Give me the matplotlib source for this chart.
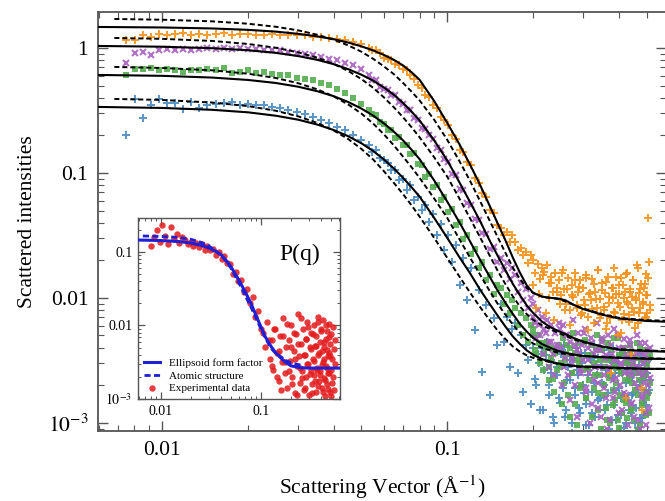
import numpy as np
import matplotlib
matplotlib.use('Agg')
import matplotlib.pyplot as plt
from matplotlib.ticker import FixedLocator, FixedFormatter, LogLocator, NullFormatter

plt.rcParams['font.family'] = ['Liberation Serif', 'DejaVu Serif']
plt.rcParams['mathtext.fontset'] = 'stix'

# ---------------- data (log10 of intensity) ----------------
q_low = np.geomspace(0.0075, 0.05, 30)
q_mid = np.geomspace(0.053, 0.15, 35)
q_high = np.linspace(0.154, 0.515, 95)
q_extra = np.linspace(0.2, 0.513, 60)
q_data = np.concatenate([q_low, q_mid, q_high, q_extra])

orange_log = [0.06, 0.06, 0.10, 0.09, 0.11, 0.10, 0.11, 0.12, 0.10, 0.11, 0.10, 0.11, 0.12, 0.10, 0.11,
              0.11, 0.10, 0.10, 0.11, 0.10, 0.10, 0.10, 0.10, 0.09, 0.09, 0.08, 0.07, 0.06, 0.05, 0.03,
              0.00, -0.02, -0.02, -0.04, -0.08, -0.09, -0.10, -0.13, -0.14, -0.17, -0.18, -0.22, -0.25, -0.30, -0.32,
              -0.38, -0.39, -0.46, -0.48, -0.55, -0.58, -0.62, -0.70, -0.73, -0.82, -0.83, -0.91, -0.94, -1.04, -1.08,
              -1.16, -1.19, -1.30, -1.32, -1.42,
              -1.44, -1.50, -1.47, -1.55, -1.50,
              -1.55, -1.62, -1.60, -1.66, -1.63, -1.72, -1.66,
              -1.70, -1.80, -1.73, -1.85, -1.76, -1.79,
              -1.74, -1.88, -1.83, -1.95, -1.80, -1.92, -1.86,
              -1.98, -1.78, -1.93, -2.05, -1.84, -2.10, -1.90, -1.99, -1.80, -2.08, -1.95, -1.86, -2.12,
              -1.92, -2.06, -1.82, -2.15, -1.97, -2.02, -1.85, -2.20, -1.95, -2.08, -1.78, -2.01, -2.14,
              -1.88, -2.10, -1.96, -2.25, -1.83, -2.04, -2.16, -1.92, -2.00, -1.76, -2.12, -1.97, -2.30,
              -1.90, -2.07, -1.84, -2.18, -2.00, -1.95, -2.80, -1.80, -2.05, -2.14, -1.93, -2.45, -1.99,
              -1.86, -2.11, -2.02, -1.74, -2.20, -1.96, -2.08, -1.89, -2.72, -2.03, -1.92, -2.16, -1.81,
              -1.98, -2.12, -1.36, -1.71, -2.06,
              -1.90, -2.08, -1.97, -1.82, -2.12, -2.00, -1.88, -2.18, -1.95, -2.05,
              -1.80, -2.10, -1.93, -2.22, -1.98, -1.86, -2.06, -1.91, -2.14, -2.02,
              -1.84, -2.26, -1.96, -2.09, -1.89, -2.01, -1.78, -2.16, -1.94, -2.07,
              -1.87, -2.20, -1.99, -2.60, -1.92, -2.11, -1.83, -2.04, -1.97, -2.28,
              -1.90, -2.13, -1.81, -2.03, -2.19, -1.95, -2.08, -1.86, -2.24, -2.00,
              -1.76, -2.12, -1.93, -2.90, -2.05, -1.89, -2.15, -1.98, -1.84, -2.10]

purple_log = [-0.12, -0.04, -0.03, -0.06, -0.02, -0.01, -0.02, -0.01, -0.02, -0.01, 0.00, -0.01, 0.00, -0.01, 0.00,
              -0.01, -0.01, -0.02, -0.02, -0.02, -0.03, -0.04, -0.05, -0.06, -0.07, -0.09, -0.10, -0.12, -0.14, -0.17,
              -0.22, -0.26, -0.26, -0.31, -0.33, -0.34, -0.38, -0.38, -0.43, -0.45, -0.50, -0.50, -0.56, -0.58, -0.64,
              -0.65, -0.70, -0.73, -0.80, -0.82, -0.89, -0.91, -1.01, -1.02, -1.13, -1.14, -1.24, -1.26, -1.37, -1.38,
              -1.48, -1.49, -1.61, -1.59, -1.71,
              -1.68, -1.78, -1.72, -1.85, -1.76,
              -1.82, -1.95, -1.88, -2.02, -1.93, -2.08, -2.00,
              -2.05, -2.20, -2.10, -2.30, -2.15, -2.25,
              -2.18, -2.35, -2.22, -2.45, -2.28, -2.38, -2.20,
              -2.40, -2.22, -2.55, -2.30, -2.62, -2.35, -2.48, -2.18, -2.70, -2.42, -2.28, -2.58, -2.38,
              -2.50, -2.25, -2.72, -2.40, -2.60, -2.32, -2.85, -2.45, -2.55, -2.20, -2.68, -2.42, -2.95,
              -2.35, -2.62, -2.48, -2.80, -2.30, -2.55, -2.98, -2.45, -2.66, -2.25, -2.75, -2.50, -3.10,
              -2.40, -2.70, -2.52, -2.90, -2.33, -2.60, -2.78, -2.46, -3.02, -2.56, -2.38, -2.85, -2.62,
              -2.48, -2.95, -2.55, -2.30, -2.72, -2.60, -3.05, -2.44, -2.80, -2.52, -2.68, -2.36, -2.92,
              -2.58, -2.75, -2.42, -2.88, -2.64,
              -2.15, -2.32, -2.22, -2.45, -2.28, -2.55, -2.35, -2.62, -2.40, -2.25,
              -2.70, -2.48, -2.30, -2.82, -2.52, -2.38, -2.95, -2.44, -2.60, -2.28,
              -2.75, -2.50, -3.00, -2.36, -2.66, -2.42, -2.88, -2.55, -2.32, -2.72,
              -2.46, -3.05, -2.58, -2.38, -2.80, -2.50, -2.64, -2.30, -2.92, -2.54,
              -2.40, -2.76, -2.48, -3.10, -2.60, -2.34, -2.84, -2.52, -2.68, -2.44,
              -2.98, -2.56, -2.36, -2.78, -2.62, -2.46, -3.02, -2.50, -2.70, -2.40]

green_log = [-0.22, -0.17, -0.17, -0.16, -0.18, -0.17, -0.18, -0.19, -0.18, -0.18, -0.17, -0.18, -0.16, -0.20, -0.19,
             -0.18, -0.20, -0.19, -0.21, -0.22, -0.22, -0.24, -0.25, -0.26, -0.28, -0.30, -0.33, -0.36, -0.40, -0.45,
             -0.50, -0.53, -0.54, -0.59, -0.61, -0.66, -0.66, -0.72, -0.71, -0.78, -0.78, -0.85, -0.84, -0.93, -0.94,
             -1.03, -1.01, -1.11, -1.10, -1.22, -1.19, -1.31, -1.29, -1.42, -1.39, -1.53, -1.50, -1.65, -1.61, -1.76,
             -1.71, -1.86, -1.82, -1.97, -1.90,
             -1.92, -2.05, -1.98, -2.12, -2.02,
             -2.08, -2.22, -2.12, -2.30, -2.16, -2.35, -2.22,
             -2.25, -2.42, -2.30, -2.52, -2.36, -2.45,
             -2.35, -2.55, -2.40, -2.65, -2.44, -2.58, -2.38,
             -2.52, -2.32, -2.68, -2.45, -2.78, -2.40, -2.60, -2.28, -2.85, -2.50, -2.36, -2.72, -2.48,
             -2.58, -2.34, -2.80, -2.46, -2.66, -2.38, -2.95, -2.52, -2.62, -2.30, -2.76, -2.50, -3.05,
             -2.42, -2.70, -2.55, -2.88, -2.36, -2.62, -3.00, -2.50, -2.74, -2.32, -2.82, -2.56, -2.98,
             -2.46, -2.78, -2.60, -2.92, -2.40, -2.66, -2.84, -2.52, -3.08, -2.62, -2.44, -2.90, -2.68,
             -2.54, -2.98, -2.60, -2.36, -2.78, -2.66, -3.02, -2.50, -2.86, -2.58, -2.74, -2.42, -2.94,
             -2.62, -2.80, -2.48, -2.92, -2.68,
             -2.30, -2.45, -2.36, -2.58, -2.40, -2.66, -2.48, -2.75, -2.42, -2.55,
             -2.85, -2.50, -2.38, -2.95, -2.60, -2.44, -3.02, -2.52, -2.70, -2.35,
             -2.80, -2.56, -3.08, -2.46, -2.72, -2.40, -2.90, -2.62, -2.34, -2.78,
             -2.50, -2.98, -2.64, -2.42, -2.86, -2.54, -2.68, -2.32, -3.04, -2.58,
             -2.44, -2.82, -2.52, -2.96, -2.66, -2.38, -2.88, -2.56, -2.74, -2.48,
             -3.06, -2.60, -2.40, -2.84, -2.64, -2.50, -2.92, -2.54, -2.76, -2.46]

blue_log = [-0.70, -0.41, -0.56, -0.46, -0.41, -0.44, -0.44, -0.49, -0.43, -0.48, -0.46, -0.45, -0.44, -0.43, -0.46,
            -0.45, -0.46, -0.46, -0.47, -0.48, -0.50, -0.51, -0.53, -0.55, -0.58, -0.60, -0.63, -0.66, -0.70, -0.74,
            -0.78, -0.83, -0.82, -0.88, -0.90, -0.92, -0.98, -0.98, -1.06, -1.05, -1.14, -1.10, -1.22, -1.19, -1.30,
            -1.26, -1.39, -1.33, -1.50, -1.41, -1.62, -1.50, -1.71, -1.58, -1.90, -1.68, -2.02, -1.76, -2.26, -1.94,
            -2.59, -2.06, -2.78, -2.16, -2.38,
            -2.05, -2.35, -2.15, -2.55, -2.25,
            -2.20, -2.60, -2.30, -2.75, -2.38, -2.50, -2.85,
            -2.30, -2.65, -2.45, -2.90, -2.40, -2.58,
            -2.35, -2.70, -2.50, -2.95, -2.42, -2.62, -2.80,
            -2.45, -2.72, -2.38, -2.90, -2.55, -2.66, -3.00, -2.48, -2.78, -2.40, -2.62, -2.92, -2.52,
            -2.70, -2.44, -2.85, -2.58, -3.02, -2.50, -2.75, -2.38, -2.95, -2.62, -2.48, -2.80, -2.55,
            -2.68, -2.42, -2.90, -2.58, -2.76, -3.05, -2.50, -2.64, -2.40, -2.86, -2.60, -2.98, -2.52,
            -2.72, -2.46, -2.94, -2.60, -2.78, -2.44, -3.00, -2.56, -2.82, -2.66, -2.50, -2.92, -2.62,
            -2.76, -2.48, -2.88, -2.58, -3.04, -2.54, -2.70, -2.45, -2.96, -2.64, -2.80, -2.52, -2.86,
            -2.60, -2.92, -2.50, -2.74, -2.66,
            -2.40, -2.70, -2.52, -2.90, -2.46, -2.78, -2.60, -3.00, -2.55, -2.84,
            -2.42, -2.95, -2.66, -2.50, -3.08, -2.72, -2.58, -2.88, -2.44, -2.76,
            -3.02, -2.62, -2.48, -2.92, -2.68, -2.54, -2.82, -2.40, -3.06, -2.70,
            -2.56, -2.86, -2.46, -2.98, -2.64, -2.74, -2.52, -2.94, -2.60, -2.80,
            -2.44, -3.04, -2.68, -2.58, -2.90, -2.50, -2.78, -2.62, -3.00, -2.56,
            -2.72, -2.46, -2.96, -2.66, -2.84, -2.54, -3.10, -2.60, -2.76, -2.48]

# model curves (log10 intensity)
q_fit = [0.006, 0.01, 0.015, 0.02, 0.025, 0.03, 0.035, 0.04, 0.045, 0.05,
         0.055, 0.06, 0.065, 0.07, 0.075, 0.08, 0.09, 0.1,
         0.11, 0.12, 0.13, 0.14, 0.15, 0.16, 0.17, 0.18, 0.19, 0.2,
         0.215, 0.23, 0.245, 0.26, 0.28, 0.3, 0.35, 0.4, 0.5, 0.6]
q_dash = [0.0068] + q_fit[1:]

orange_fit = [0.168, 0.164, 0.156, 0.145, 0.131, 0.113, 0.093, 0.070, 0.043, 0.013,
              -0.020, -0.056, -0.095, -0.14, -0.195, -0.255, -0.425, -0.60,
              -0.765, -0.93, -1.09, -1.25, -1.40, -1.54, -1.68, -1.80, -1.90, -1.96,
              -1.99, -2.00, -2.005, -2.02, -2.06, -2.09, -2.135, -2.165, -2.185, -2.192]
purple_fit = [0.016, 0.010, -0.002, -0.018, -0.039, -0.065, -0.095, -0.13, -0.17, -0.214,
              -0.262, -0.316, -0.375, -0.44, -0.51, -0.58, -0.74, -0.90,
              -1.07, -1.23, -1.38, -1.53, -1.66, -1.78, -1.89, -1.98, -2.06, -2.12,
              -2.19, -2.235, -2.265, -2.29, -2.325, -2.35, -2.39, -2.415, -2.425, -2.432]
green_fit = [-0.216, -0.223, -0.237, -0.256, -0.28, -0.31, -0.346, -0.386, -0.433, -0.485,
             -0.542, -0.604, -0.67, -0.74, -0.815, -0.89, -1.06, -1.23,
             -1.39, -1.545, -1.69, -1.82, -1.94, -2.04, -2.13, -2.21, -2.27, -2.32,
             -2.37, -2.40, -2.425, -2.44, -2.455, -2.465, -2.475, -2.48, -2.488, -2.488]
blue_fit = [-0.472, -0.48, -0.495, -0.515, -0.542, -0.574, -0.613, -0.657, -0.707, -0.763,
            -0.825, -0.893, -0.965, -1.04, -1.115, -1.19, -1.36, -1.52,
            -1.67, -1.80, -1.93, -2.04, -2.14, -2.23, -2.31, -2.37, -2.42, -2.455,
            -2.49, -2.51, -2.525, -2.535, -2.545, -2.55, -2.555, -2.56, -2.568, -2.568]

orange_atom = [0.232, 0.226, 0.213, 0.194, 0.17, 0.141, 0.106, 0.066, 0.02, -0.03,
               -0.087, -0.148, -0.21, -0.28, -0.35, -0.42, -0.575, -0.735,
               -0.90, -1.06, -1.22, -1.37, -1.51, -1.64, -1.76, -1.85, -1.92, -1.96,
               -1.99, -2.0, -2.01, -2.03, -2.06, -2.085, -2.13, -2.16, -2.178, -2.184]
purple_atom = [0.08, 0.073, 0.056, 0.032, 0.002, -0.035, -0.078, -0.128, -0.185, -0.249,
               -0.319, -0.396, -0.475, -0.555, -0.635, -0.715, -0.875, -1.03,
               -1.20, -1.36, -1.51, -1.65, -1.78, -1.89, -1.99, -2.07, -2.13, -2.175,
               -2.22, -2.25, -2.28, -2.305, -2.335, -2.355, -2.39, -2.41, -2.42, -2.428]
green_atom = [-0.152, -0.16, -0.179, -0.206, -0.24, -0.282, -0.331, -0.388, -0.453, -0.525,
              -0.605, -0.692, -0.78, -0.87, -0.955, -1.04, -1.205, -1.36,
              -1.525, -1.675, -1.81, -1.935, -2.045, -2.135, -2.215, -2.28, -2.33, -2.365,
              -2.40, -2.42, -2.44, -2.45, -2.46, -2.465, -2.472, -2.478, -2.484, -2.488]
blue_atom = [-0.408, -0.416, -0.437, -0.465, -0.502, -0.547, -0.60, -0.661, -0.73, -0.808,
             -0.893, -0.987, -1.08, -1.17, -1.26, -1.35, -1.52, -1.68,
             -1.825, -1.955, -2.07, -2.17, -2.26, -2.33, -2.39, -2.43, -2.46, -2.48,
             -2.50, -2.515, -2.53, -2.54, -2.55, -2.555, -2.56, -2.565, -2.568, -2.568]

# inset P(q)
pq_q_fit = [0.0059, 0.01, 0.015, 0.02, 0.025, 0.03, 0.035, 0.04, 0.045, 0.05, 0.06, 0.07, 0.08,
            0.09, 0.1, 0.11, 0.12, 0.13, 0.14, 0.16, 0.18, 0.2, 0.25, 0.3, 0.4, 0.62]
pq_ellipsoid = [-0.84, -0.847, -0.86, -0.88, -0.91, -0.945, -0.99, -1.04, -1.12, -1.20, -1.38, -1.55, -1.71,
                -1.875, -2.02, -2.15, -2.24, -2.31, -2.37, -2.45, -2.51, -2.55, -2.575, -2.58, -2.58, -2.58]
pq_q_atom = [0.0066, 0.01, 0.015, 0.02, 0.025, 0.03, 0.035, 0.04, 0.045, 0.05, 0.06, 0.07, 0.08,
             0.09, 0.1, 0.11, 0.12, 0.13, 0.14, 0.16, 0.18, 0.2, 0.25]
pq_atom = [-0.785, -0.79, -0.805, -0.83, -0.87, -0.92, -0.98, -1.05, -1.13, -1.22, -1.42, -1.60, -1.76,
           -1.91, -2.05, -2.16, -2.26, -2.33, -2.38, -2.43, -2.48, -2.51, -2.54]

pq_q_exp = np.concatenate([np.geomspace(0.008, 0.1, 40), np.linspace(0.105, 0.55, 80),
                           np.linspace(0.12, 0.5, 50)])
pq_exp = [-0.92, -0.80, -0.70, -0.86, -0.63, -0.78, -0.90, -0.66, -0.82, -0.76, -0.88, -0.80, -0.84, -0.90,
          -0.86, -0.92, -0.88, -0.94, -0.90, -0.97, -0.92, -0.98, -0.96, -1.04, -1.00, -1.10, -1.06, -1.15,
          -1.17, -1.30, -1.28, -1.40, -1.38, -1.55, -1.50, -1.70, -1.62, -1.88, -1.80, -2.05,
          -2.10, -2.30, -1.95, -2.45, -2.20, -2.60, -2.05, -2.38, -2.75, -2.15, -2.50, -1.90, -2.65, -2.30,
          -2.85, -2.20, -2.48, -2.00, -2.70, -2.35, -2.92, -2.12, -2.55, -1.85, -2.42, -2.78, -2.25, -2.62,
          -2.05, -2.88, -2.40, -2.18, -2.70, -1.95, -2.52, -2.95, -2.30, -2.60, -2.10, -2.80, -2.45, -2.00,
          -2.68, -2.28, -2.90, -2.15, -2.58, -1.88, -2.40, -2.75, -2.22, -2.62, -2.05, -2.85, -2.35, -2.50,
          -1.92, -2.72, -2.30, -2.96, -2.18, -2.55, -2.08, -2.80, -2.42, -2.65, -1.98, -2.38, -2.90, -2.25,
          -2.60, -2.12, -2.78, -2.45, -2.02, -2.70, -2.32, -2.88, -2.20, -2.52,
          -2.20, -2.55, -2.05, -2.70, -2.35, -2.88, -2.15, -2.50, -1.98, -2.62,
          -2.30, -2.80, -2.10, -2.45, -2.95, -2.25, -2.58, -1.90, -2.72, -2.40,
          -2.85, -2.18, -2.52, -2.02, -2.66, -2.32, -2.92, -2.12, -2.48, -2.76,
          -2.28, -2.60, -1.95, -2.82, -2.38, -2.68, -2.08, -2.54, -2.90, -2.22,
          -2.46, -2.74, -2.00, -2.58, -2.34, -2.86, -2.16, -2.64, -2.42, -2.96]

series = [
    (orange_log, orange_fit, orange_atom, '#f7921c', 'P', 5.6),
    (purple_log, purple_fit, purple_atom, '#a862c0', 'x', 5.0),
    (green_log, green_fit, green_atom, '#55ad4f', 's', 4.6),
    (blue_log, blue_fit, blue_atom, '#4a8cc2', 'P', 5.6),
]

# ---------------- figure ----------------
fig = plt.figure(figsize=(6.65, 5.01), dpi=100)
ax = fig.add_axes([98 / 665, 70 / 501, 568 / 665, 419 / 501])

for logv, fit, atom, col, mk, ms in series[::-1]:
    yv = 10 ** np.array(logv)
    if mk == 'x':
        ax.plot(q_data, yv, ls='none', marker=mk, ms=ms, mew=1.5, color=col, alpha=0.9, zorder=2)
    else:
        ax.plot(q_data, yv, ls='none', marker=mk, ms=ms, mew=0, color=col, alpha=0.9, zorder=2)

for logv, fit, atom, col, mk, ms in series:
    ax.plot(q_fit, 10 ** np.array(fit), color='black', lw=1.5, zorder=4)
    ax.plot(q_dash, 10 ** np.array(atom), color='black', lw=1.4, ls=(0, (2.6, 1.5)), zorder=3)

ax.set_xscale('log')
ax.set_yscale('log')
ax.set_xlim(0.00596, 0.585)
ax.set_ylim(8.6e-4, 1.94)

ax.xaxis.set_major_locator(FixedLocator([0.01, 0.1]))
ax.xaxis.set_major_formatter(FixedFormatter(['0.01', '0.1']))
ax.xaxis.set_minor_locator(LogLocator(base=10, subs=np.arange(2, 10), numticks=20))
ax.xaxis.set_minor_formatter(NullFormatter())
ax.yaxis.set_major_locator(FixedLocator([1e-3, 1e-2, 0.1, 1]))
ax.yaxis.set_major_formatter(FixedFormatter([r'$10^{-3}$', '0.01', '0.1', '1']))
ax.yaxis.set_minor_locator(LogLocator(base=10, subs=np.arange(2, 10), numticks=20))
ax.yaxis.set_minor_formatter(NullFormatter())

ax.tick_params(which='both', direction='in', top=True, right=True, color='#555555')
ax.tick_params(which='major', length=7, width=1.0, labelsize=15.5, pad=7)
ax.tick_params(which='minor', length=4, width=0.8)
for s in ax.spines.values():
    s.set_color('#555555')
    s.set_linewidth(1.3)

ax.set_xlabel(r'Scattering Vector (Å$^{-1}$)', fontsize=15.5, labelpad=10)
ax.set_ylabel('Scattered intensities', fontsize=15.5, labelpad=8)

# ---------------- inset ----------------
axi = fig.add_axes([138 / 665, 102 / 501, 202 / 665, 181 / 501])
axi.set_facecolor('white')
axi.set_zorder(5)
axi.plot(pq_q_exp, 10 ** np.array(pq_exp), ls='none', marker='o', ms=4.6, mew=0, color='#e31a1c',
         alpha=0.85, label='Experimental data', zorder=2)
axi.plot(pq_q_fit, 10 ** np.array(pq_ellipsoid), color='#1f1fd6', lw=2.2, zorder=3,
         label='Ellipsoid form factor')
axi.plot(pq_q_atom, 10 ** np.array(pq_atom), color='#1f1fd6', lw=2.0, ls=(0, (2.2, 1.2)), zorder=3,
         label='Atomic structure')
axi.set_xscale('log')
axi.set_yscale('log')
axi.set_xlim(0.0059, 0.617)
axi.set_ylim(1e-3, 0.288)
axi.xaxis.set_major_locator(FixedLocator([0.01, 0.1]))
axi.xaxis.set_major_formatter(FixedFormatter(['0.01', '0.1']))
axi.xaxis.set_minor_locator(LogLocator(base=10, subs=np.arange(2, 10), numticks=20))
axi.xaxis.set_minor_formatter(NullFormatter())
axi.yaxis.set_major_locator(FixedLocator([1e-3, 1e-2, 0.1]))
axi.yaxis.set_major_formatter(FixedFormatter([r'$10^{-3}$', '0.01', '0.1']))
axi.yaxis.set_minor_locator(LogLocator(base=10, subs=np.arange(2, 10), numticks=20))
axi.yaxis.set_minor_formatter(NullFormatter())
axi.tick_params(which='both', direction='in', top=True, right=True, color='#555555')
axi.tick_params(which='major', length=5, width=0.9, labelsize=10, pad=4)
axi.tick_params(which='minor', length=2.5, width=0.7)
for s in axi.spines.values():
    s.set_color('#555555')
    s.set_linewidth(1.0)
axi.text(0.80, 0.80, 'P(q)', transform=axi.transAxes, fontsize=17, ha='center', va='center')
h, lab = axi.get_legend_handles_labels()
order = [1, 2, 0]
axi.legend([h[i] for i in order], [lab[i] for i in order], loc='lower left', frameon=False,
           fontsize=8, handlelength=1.5, handletextpad=0.8, labelspacing=0.25,
           borderaxespad=0.2, borderpad=0.3)

fig.savefig('out.png', dpi=100)
